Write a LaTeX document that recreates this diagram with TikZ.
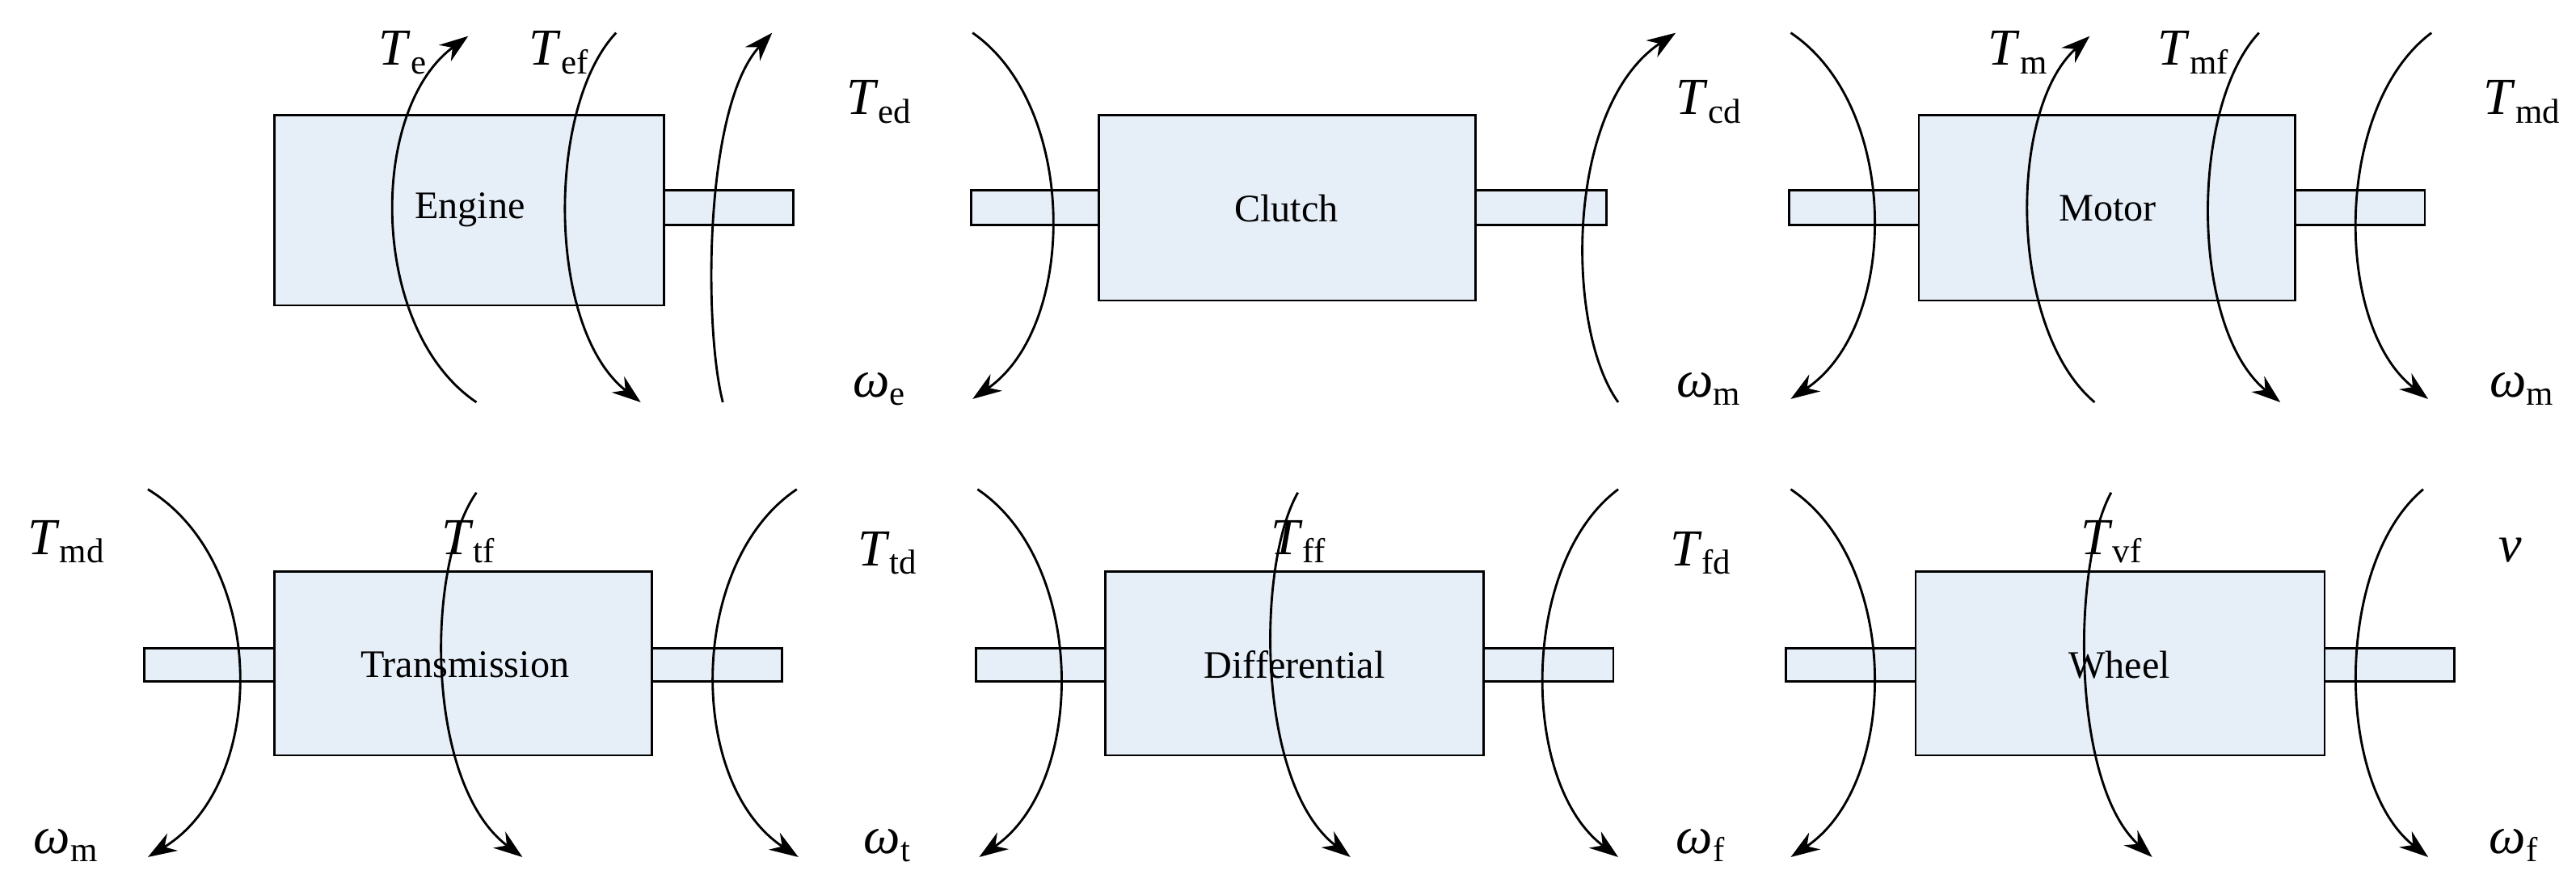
\documentclass[tikz,border=0pt]{standalone}
\usepackage{fontspec}
\setmainfont{Liberation Serif}
\usetikzlibrary{arrows.meta}
\definecolor{boxfill}{HTML}{E6EEF8}
\tikzset{
  blk/.style={draw, line width=0.8pt, fill=boxfill},
  arc/.style={line width=0.8pt},
  tip/.style={-{Stealth[length=10pt,width=7pt]}},
  lab/.style={font=\fontsize{18}{20}\selectfont, inner sep=0pt},
  bname/.style={font=\fontsize{13.5}{16}\selectfont, inner sep=0pt}
}
\newcommand{\sym}[2]{\textit{#1}\raisebox{-0.35ex}{\fontsize{12}{12}\selectfont #2}}
\newcommand{\myarc}[6]{% x1 y1 xb x2 y2 style
  \pgfmathsetmacro{\cx}{(#3-(#1+#4)/8)*4/3}
  \pgfmathsetmacro{\cya}{#2+(#5-#2)*0.2}
  \pgfmathsetmacro{\cyb}{#2+(#5-#2)*0.8}
  \draw[arc,#6] (#1,#2) .. controls (\cx,\cya) and (\cx,\cyb) .. (#4,#5);}
\begin{document}
\begin{tikzpicture}[x=0.02cm,y=-0.02cm]
\useasboundingbox (0,0) rectangle (1568,540);
% top row shafts and boxes
\draw[blk] (404,116) rectangle (483,137);
\draw[blk] (167,70) rectangle (404,186);
\node[bname] (eng) at (286,128) {Engine};
\draw[blk] (591,116) rectangle (669,137);
\draw[blk] (898,116) rectangle (978,137);
\draw[blk] (669,70) rectangle (898,183);
\node[bname] (clu) at (783,127) {Clutch};
\draw[blk] (1089,116) rectangle (1168,137);
\draw[blk] (1397,116) rectangle (1476,137);
\draw[blk] (1168,70) rectangle (1397,183);
\node[bname] (mot) at (1283,127) {Motor};
% bottom row
\draw[blk] (88,395) rectangle (167,415);
\draw[blk] (397,395) rectangle (476,415);
\draw[blk] (167,348) rectangle (397,460);
\node[bname] (tra) at (283,405) {Transmission};
\draw[blk] (594,395) rectangle (673,415);
\draw[blk] (903,395) rectangle (982,415);
\draw[blk] (673,348) rectangle (903,460);
\node[bname] (dif) at (788,405) {Differential};
\draw[blk] (1087,395) rectangle (1166,415);
\draw[blk] (1415,395) rectangle (1494,415);
\draw[blk] (1166,348) rectangle (1415,460);
\node[bname] (whe) at (1290,405) {Wheel};
% top arcs
\myarc{290}{245}{240}{285}{22}{tip}
\myarc{375}{20}{345}{390}{245}{tip}
\myarc{440}{245}{435}{470}{20}{tip}
\myarc{592}{20}{640}{592}{243}{tip}
\myarc{985}{245}{965}{1020}{20}{tip}
\myarc{1090}{20}{1140}{1090}{243}{tip}
\myarc{1275}{245}{1235}{1272}{22}{tip}
\myarc{1375}{20}{1345}{1388}{245}{tip}
\myarc{1480}{20}{1435}{1478}{243}{tip}
% bottom arcs
\myarc{90}{298}{145}{90}{522}{tip}
\myarc{290}{300}{270}{318}{522}{tip}
\myarc{485}{298}{435}{486}{522}{tip}
\myarc{595}{298}{645}{596}{522}{tip}
\myarc{790}{300}{775}{822}{522}{tip}
\myarc{985}{298}{940}{985}{522}{tip}
\myarc{1090}{298}{1140}{1090}{522}{tip}
\myarc{1285}{300}{1270}{1310}{522}{tip}
\myarc{1475}{298}{1435}{1478}{522}{tip}
% labels
\node[lab] (l1) at (245,32) {\sym{T}{e}};
\node[lab] (l2) at (340,32) {\sym{T}{ef}};
\node[lab] (l3) at (535,62) {\sym{T}{ed}};
\node[lab] (l4) at (535,237) {\sym{ω}{e}};
\node[lab] (l5) at (1040,62) {\sym{T}{cd}};
\node[lab] (l6) at (1040,237) {\sym{ω}{m}};
\node[lab] (l7) at (1228,32) {\sym{T}{m}};
\node[lab] (l8) at (1335,32) {\sym{T}{mf}};
\node[lab] (l9) at (1535,62) {\sym{T}{md}};
\node[lab] (l10) at (1535,237) {\sym{ω}{m}};
\node[lab] (m1) at (40,330) {\sym{T}{md}};
\node[lab] (m2) at (40,515) {\sym{ω}{m}};
\node[lab] (m3) at (285,330) {\sym{T}{tf}};
\node[lab] (m4) at (540,337) {\sym{T}{td}};
\node[lab] (m5) at (540,515) {\sym{ω}{t}};
\node[lab] (m6) at (790,330) {\sym{T}{ff}};
\node[lab] (m7) at (1035,337) {\sym{T}{fd}};
\node[lab] (m8) at (1035,515) {\sym{ω}{f}};
\node[lab] (m9) at (1285,330) {\sym{T}{vf}};
\node[lab] (m10) at (1528,335) {\textit{v}};
\node[lab] (m11) at (1530,515) {\sym{ω}{f}};
\end{tikzpicture}
\end{document}
